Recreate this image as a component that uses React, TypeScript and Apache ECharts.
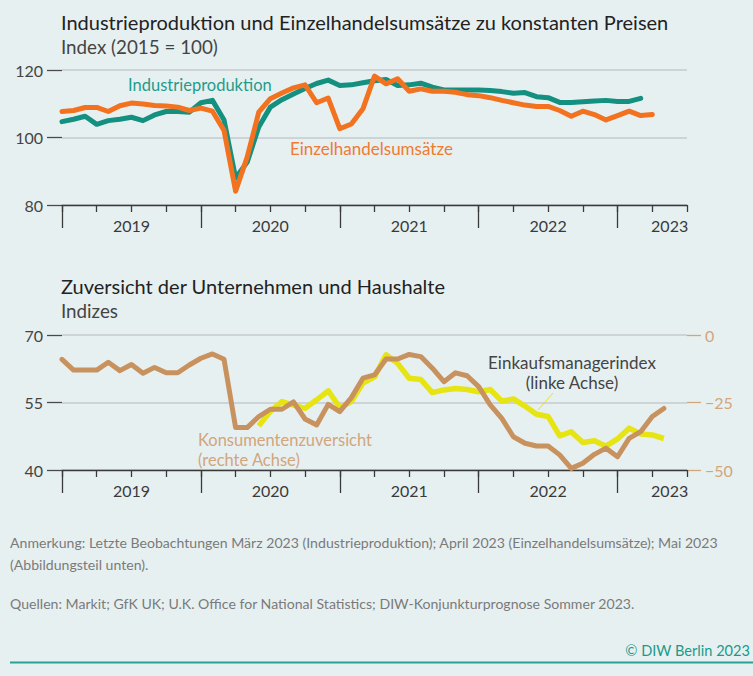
import React, { useEffect, useRef } from "react";
import * as echarts from "echarts";

// ---- data (monthly, index 0 = Jan 2019) ----
const years = ["2019", "2020", "2021", "2022", "2023"];

const industrieproduktion = [
  104.7, 105.4, 106.3, 103.9, 105.0, 105.4, 106.0, 105.0, 106.7, 107.7, 107.7, 107.5,
  110.3, 111.0, 105.2, 88.0, 92.7, 103.1, 109.0, 111.2, 112.9, 114.5, 116.0, 117.0,
  115.4, 115.6, 116.2, 116.8, 117.2, 115.4, 115.6, 116.1, 114.9, 114.1, 114.1, 114.1,
  114.1, 113.9, 113.6, 113.1, 113.3, 112.1, 111.8, 110.4, 110.4, 110.6, 110.8, 111.0,
  110.7, 110.7, 111.6,
];
const industrieStart = 0;

const einzelhandel = [
  107.7, 108.0, 108.9, 108.9, 107.7, 109.4, 110.2, 109.9, 109.5, 109.3, 109.0, 108.0,
  108.7, 107.8, 102.1, 84.1, 94.2, 107.5, 111.5, 113.2, 114.7, 115.6, 110.3, 111.7,
  102.6, 104.0, 108.5, 118.2, 115.9, 117.4, 113.7, 114.4, 113.7, 113.7, 113.4, 112.7,
  112.4, 111.8, 111.0, 110.3, 109.6, 109.2, 109.2, 108.0, 106.3, 107.8, 106.8, 105.2,
  106.5, 107.8, 106.5, 106.8,
];
const einzelhandelStart = 0;

const konsumentenzuversicht = [
  -9.0, -13.0, -13.0, -13.0, -10.1, -13.2, -10.9, -14.2, -12.0, -14.0, -14.0, -11.1,
  -8.6, -7.0, -9.0, -34.3, -34.3, -30.2, -27.5, -27.5, -24.8, -31.1, -33.3, -25.7,
  -28.4, -23.2, -16.0, -14.8, -8.9, -8.9, -7.2, -8.0, -12.3, -17.3, -14.0, -15.1,
  -19.1, -25.9, -30.9, -37.7, -40.1, -41.1, -41.1, -44.4, -49.4, -47.5, -44.2, -41.9,
  -45.1, -38.3, -35.8, -30.2, -27.2,
];
const konsumentenStart = 0;

const einkaufsmanagerindex = [
  49.8, 53.0, 55.2, 54.4, 53.7, 55.6, 57.6, 53.9, 55.2, 59.3, 60.7, 65.6,
  63.7, 60.4, 60.1, 57.2, 57.8, 58.1, 57.9, 57.4, 57.9, 55.3, 55.8, 54.2,
  52.4, 51.9, 47.6, 48.5, 46.1, 46.5, 45.3, 46.9, 49.3, 48.0, 47.8, 47.0,
];
const pmiStart = 17;

const topTicks = [80, 100, 120];
const leftTicks = [40, 55, 70];
const rightTicks = [-50, -25, 0];

// ---- styling ----
const FONT = 'Lato, "Open Sans", "Noto Sans", sans-serif';
const BG = "#e7f0f1";
const TEAL = "#13907f";
const ORANGE = "#f2721f";
const YELLOW = "#e7e413";
const BROWN = "#c8925f";
const TAN_TEXT = "#d2a57c";
const AXIS = "#3a3a3a";
const GRID = "#c4cacc";

const toPairs = (arr: number[], start: number) => arr.map((v, i) => [start + i, v]);

const mainX = (g: number) => ({
  type: "value",
  gridIndex: g,
  position: "bottom",
  min: 0,
  max: 54,
  interval: 3,
  axisLine: { show: true, onZero: false, lineStyle: { color: AXIS, width: 1.3 } },
  axisTick: { show: true, length: 7, lineStyle: { color: AXIS, width: 1.3 } },
  axisLabel: { show: false },
  splitLine: { show: false },
});

const yearX = (g: number) => ({
  type: "value",
  gridIndex: g,
  position: "bottom",
  min: 0,
  max: 54,
  interval: 6,
  axisLine: { show: false, onZero: false },
  axisTick: {
    show: true,
    length: 23,
    customValues: [0, 12, 24, 36, 48],
    lineStyle: { color: AXIS, width: 1.3 },
  },
  axisLabel: {
    show: true,
    customValues: [6, 18, 30, 42, 52.5],
    formatter: (v: number) => years[Math.min(years.length - 1, Math.floor(v / 12))],
    margin: 12,
    fontSize: 16,
    color: AXIS,
    fontFamily: FONT,
  },
  splitLine: { show: false },
});

const leftY = (g: number, min: number, max: number, interval: number) => ({
  type: "value",
  gridIndex: g,
  position: "left",
  min,
  max,
  interval,
  axisLine: { show: false, onZero: false },
  axisTick: { show: true, length: 15, lineStyle: { color: "#4a4a4a", width: 1.3 } },
  axisLabel: { margin: 19, fontSize: 16, color: "#444", fontFamily: FONT },
  splitLine: { show: true, lineStyle: { color: GRID, width: 1.5 } },
});

const txt = (
  text: string,
  x: number,
  y: number,
  size: number,
  fill: string,
  align: string = "left",
  lineHeight?: number
) => ({
  type: "text",
  x,
  y,
  silent: true,
  style: {
    text,
    fill,
    fontSize: size,
    fontFamily: FONT,
    align,
    verticalAlign: "middle",
    ...(lineHeight ? { lineHeight } : {}),
  },
});

export default function App() {
  const ref = useRef<HTMLDivElement>(null);

  useEffect(() => {
    if (!ref.current) return;
    const chart = echarts.init(ref.current, null, { renderer: "svg" });
    const option = {
      animation: false,
      backgroundColor: BG,
      textStyle: { fontFamily: FONT },
      grid: [
        { left: 62, right: 66, top: 70, height: 135 },
        { left: 62, right: 66, top: 335, height: 135 },
      ],
      xAxis: [mainX(0), yearX(0), mainX(1), yearX(1)],
      yAxis: [
        leftY(0, topTicks[0], topTicks[2], topTicks[1] - topTicks[0]),
        leftY(1, leftTicks[0], leftTicks[2], leftTicks[1] - leftTicks[0]),
        {
          type: "value",
          gridIndex: 1,
          position: "right",
          min: rightTicks[0],
          max: rightTicks[2],
          interval: rightTicks[1] - rightTicks[0],
          axisLine: { show: false, onZero: false },
          axisTick: { show: true, length: 14, lineStyle: { color: TAN_TEXT, width: 1.3 } },
          axisLabel: {
            margin: 18,
            fontSize: 16,
            color: TAN_TEXT,
            fontFamily: FONT,
            formatter: (v: number) => (v < 0 ? "\u2212" + Math.abs(v) : String(v)),
          },
          splitLine: { show: false },
        },
      ],
      series: [
        {
          name: "Industrieproduktion",
          type: "line",
          xAxisIndex: 0,
          yAxisIndex: 0,
          data: toPairs(industrieproduktion, industrieStart),
          showSymbol: false,
          symbol: "none",
          lineStyle: { color: TEAL, width: 5, cap: "round", join: "round" },
          z: 3,
        },
        {
          name: "Einzelhandelsumsätze",
          type: "line",
          xAxisIndex: 0,
          yAxisIndex: 0,
          data: toPairs(einzelhandel, einzelhandelStart),
          showSymbol: false,
          symbol: "none",
          lineStyle: { color: ORANGE, width: 5, cap: "round", join: "round" },
          z: 4,
        },
        {
          name: "Einkaufsmanagerindex",
          type: "line",
          xAxisIndex: 2,
          yAxisIndex: 1,
          data: toPairs(einkaufsmanagerindex, pmiStart),
          showSymbol: false,
          symbol: "none",
          lineStyle: { color: YELLOW, width: 5.5, cap: "butt", join: "round" },
          z: 3,
        },
        {
          name: "Konsumentenzuversicht",
          type: "line",
          xAxisIndex: 2,
          yAxisIndex: 2,
          data: toPairs(konsumentenzuversicht, konsumentenStart),
          showSymbol: false,
          symbol: "none",
          lineStyle: { color: BROWN, width: 5, cap: "round", join: "round" },
          z: 4,
        },
      ],
      graphic: [
        txt("Industrieproduktion und Einzelhandelsumsätze zu konstanten Preisen", 61, 22, 20, "#222"),
        txt("Index (2015 = 100)", 61, 46, 18.8, "#444"),
        txt("Industrieproduktion", 128, 85, 16.5, "#1f9c8c"),
        txt("Einzelhandelsumsätze", 290, 148, 17, "#f07a30"),
        txt("Zuversicht der Unternehmen und Haushalte", 61, 286, 20, "#222"),
        txt("Indizes", 61, 310, 18.8, "#444"),
        txt("Einkaufsmanagerindex\n(linke Achse)", 572, 372.5, 17, "#444", "center", 19.5),
        txt("Konsumentenzuversicht\n(rechte Achse)", 198, 450, 16.5, TAN_TEXT, "left", 20),
        {
          type: "line",
          silent: true,
          shape: { x1: 538, y1: 410, x2: 553, y2: 393 },
          style: { stroke: YELLOW, lineWidth: 1 },
        },
        txt(
          "Anmerkung: Letzte Beobachtungen März 2023 (Industrieproduktion); April 2023 (Einzelhandelsumsätze); Mai 2023\n(Abbildungsteil unten).",
          10,
          553,
          14.1,
          "#7a7a7a",
          "left",
          22
        ),
        txt(
          "Quellen: Markit; GfK UK; U.K. Office for National Statistics; DIW-Konjunkturprognose Sommer 2023.",
          10,
          603,
          14.1,
          "#7a7a7a"
        ),
        txt("© DIW Berlin 2023", 750, 650, 14.6, "#1b9a8b", "right"),
        {
          type: "line",
          silent: true,
          shape: { x1: 10, y1: 662.5, x2: 753, y2: 662.5 },
          style: { stroke: "#2aa195", lineWidth: 2 },
        },
      ],
    };
    chart.setOption(option as any);
    return () => chart.dispose();
  }, []);

  return (
    <div
      ref={ref}
      style={{ position: "absolute", left: 0, top: 0, width: 753, height: 676 }}
    />
  );
}
